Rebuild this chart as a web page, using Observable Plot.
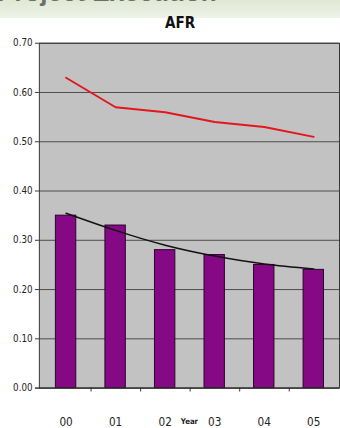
<!DOCTYPE html>
<html><head><meta charset="utf-8">
<script src="https://cdn.jsdelivr.net/npm/d3@7"></script>
<script src="https://cdn.jsdelivr.net/npm/@observablehq/plot@0.6"></script>
<style>
html,body{margin:0;padding:0;background:#fff;overflow:hidden;width:340px;height:428px}
#wrap{position:relative;width:340px;height:428px;overflow:hidden}
#band{position:absolute;left:0;top:0;width:340px;height:18px;background:linear-gradient(#e0e8d4,#eef3e8);}
#head{position:absolute;left:-3px;top:-21px;font:bold 26px "Liberation Sans",Arial,sans-serif;color:#6a7068;white-space:nowrap;line-height:26px}
#title{position:absolute;top:14px;left:0;width:360px;text-align:center;font:bold 15px "Liberation Sans Narrow","DejaVu Sans Condensed",sans-serif;color:#111}
#chart{position:absolute;left:0;top:0}
</style></head>
<body><div id="wrap"><div id="band"></div><div id="head">Project Execution</div><div id="title">AFR</div><div id="chart"></div></div>
<script>
const years = ["00","01","02","03","04","05"];
const barValues = [0.35,0.33,0.28,0.27,0.25,0.24];
const trendValues = [0.355,0.32,0.29,0.268,0.252,0.242];
const redValues = [0.63,0.57,0.56,0.54,0.53,0.51];
const yTicks = [0,0.1,0.2,0.3,0.4,0.5,0.6,0.7];
const xLabel = "Year";

const bars = years.map((y,i)=>({year:y,value:barValues[i]}));
const trend = years.map((y,i)=>({year:y,value:trendValues[i]}));
const red = years.map((y,i)=>({year:y,value:redValues[i]}));

const W=350,H=428,mL=40,mR=1,mT=44,mB=29;
const step=(W-mL-mR)/years.length;
const font="'Liberation Sans Narrow','DejaVu Sans Condensed',Arial,sans-serif";

const chart = Plot.plot({
  width:W,height:H,marginLeft:mL,marginRight:mR,marginTop:mT,marginBottom:mB,
  style:{background:"transparent",fontFamily:font,overflow:"visible"},
  x:{type:"band",domain:years,paddingInner:0.59,paddingOuter:0.295,axis:null,label:null},
  y:{domain:[0,0.7],axis:null,label:null},
  marks:[
    Plot.frame({fill:"#c2c2c2",stroke:null}),
    Plot.ruleY(yTicks,{stroke:"#4a4a4a",strokeWidth:1}),
    Plot.barY(bars,{x:"year",y:"value",fill:"#850885",stroke:"#2a002a",strokeWidth:1}),
    Plot.line(trend,{x:"year",y:"value",stroke:"#111",strokeWidth:1.5,curve:"natural"}),
    Plot.line(red,{x:"year",y:"value",stroke:"#e3161c",strokeWidth:2}),
    Plot.frame({stroke:"#333",fill:"none"}),
    Plot.ruleY([0],{stroke:"#333",insetLeft:-4}),
    Plot.ruleX(years.slice(0,5),{x:d=>d,y1:0,y2:0,dx:step/2,insetBottom:-4,stroke:"#333"}),
    Plot.axisY({ticks:yTicks,label:null,tickSize:4,tickPadding:3,tickFormat:d3.format(".2f"),fontSize:10,fill:"#222",stroke:"#333"}),
    Plot.axisX({label:null,tickSize:0,tickPadding:30,fontSize:12,fill:"#222"}),
    Plot.text([xLabel],{text:d=>d,frameAnchor:"bottom",lineAnchor:"middle",dy:34,fontSize:8,fontWeight:"bold",fill:"#222"})
  ]
});
document.getElementById("chart").appendChild(chart);
</script>
</body></html>
